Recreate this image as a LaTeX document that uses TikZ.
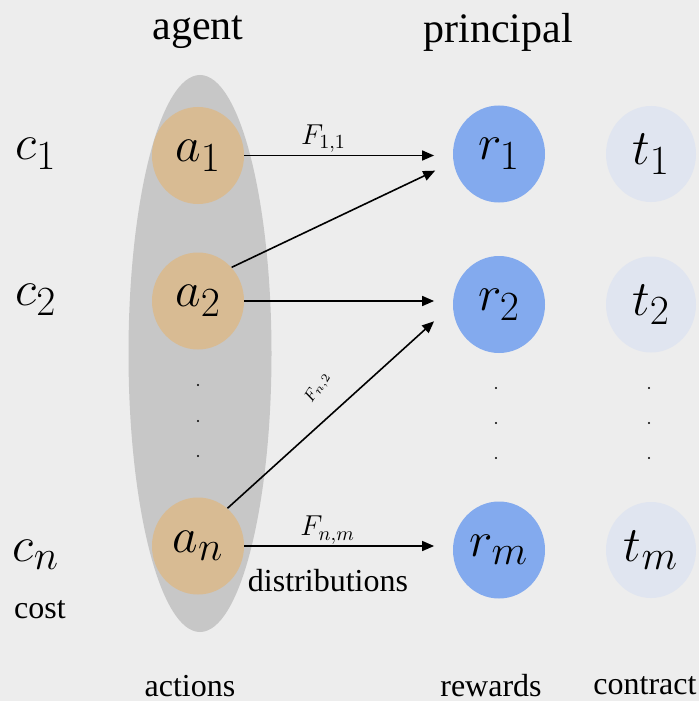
\documentclass[tikz,border=0pt]{standalone}
\usepackage{fontspec}
\setmainfont{Liberation Serif}
\usetikzlibrary{positioning, shapes.geometric, arrows.meta, calc}
\definecolor{fondgris}{RGB}{237,237,237}
\definecolor{ovalgris}{RGB}{199,199,199}
\definecolor{beige}{RGB}{216,187,147}
\definecolor{bleu}{RGB}{131,170,238}
\definecolor{bleupale}{RGB}{224,229,240}

\begin{document}
\begin{tikzpicture}[x=0.5pt, y=-0.5pt,
    >={Triangle[length=6pt, width=5pt]},
    rond/.style={ellipse, inner sep=0pt, minimum width=46pt, minimum height=48.5pt,
                 font=\Huge},
    action/.style={rond, fill=beige},
    reward/.style={rond, fill=bleu},
    payment/.style={rond, fill=bleupale, minimum width=45pt, minimum height=48pt},
    cout/.style={font=\Huge},
    titre/.style={font=\fontsize{21}{25}\selectfont},
    legende/.style={font=\fontsize{16}{19}\selectfont},
    flabel/.style={font=\Large, inner sep=1pt},
    fleche/.style={->, line width=0.8pt}]
    \useasboundingbox (0,0) rectangle (699,701);
    \fill[fondgris] (0,0) rectangle (699,701);
    % colonne des actions de l'agent
    \node[ellipse, fill=ovalgris, inner sep=0pt, minimum width=71.5pt, minimum height=278.5pt] (actionset) at (200,353.5) {};
    \node[action] (a1) at (198,155.5) {$a_1$};
    \node[action] (a2) at (198,301) {$a_2$};
    \node[action] (an) at (198,546) {$a_n$};
    % colonnes des gains et du contrat
    \node[reward] (r1) at (499,154) {$r_1$};
    \node[reward] (r2) at (499,304.5) {$r_2$};
    \node[reward] (rm) at (499,550) {$r_m$};
    \node[payment] (t1) at (651,154) {$t_1$};
    \node[payment] (t2) at (651,304.5) {$t_2$};
    \node[payment] (tm) at (651,550) {$t_m$};
    % coûts
    \node[cout] (c1) at (36,154) {$c_1$};
    \node[cout] (c2) at (36,300) {$c_2$};
    \node[cout] (cn) at (36,555) {$c_n$};
    \node[legende] (cost) at (40,610) {cost};
    % titres
    \node[titre] (agent) at (198,32) {agent};
    \node[titre] (principal) at (498,32) {principal};
    \node[legende] (actions) at (190,686) {actions};
    \node[legende] (rewards) at (491,686) {rewards};
    \node[legende] (contract) at (645,686) {contract};
    % points de suspension
    \foreach \y in {385,421,456}
        \fill (198,\y) circle[radius=0.6pt];
    \foreach \x in {496,649}
        \foreach \y in {388,423,458}
            \fill (\x,\y) circle[radius=0.6pt];
    % distributions
    \draw[fleche, shorten >=9.25pt] (a1.east) -- node[flabel, above, pos=0.38] (f11) {$F_{1,1}$} (a1.east -| r1.west);
    \draw[fleche, shorten >=10pt] (a2.45) -- (r1.190);
    \draw[fleche, shorten >=9.25pt] (a2.east) -- (a2.east -| r2.west);
    \draw[fleche, shorten >=12.5pt] (an.52) -- (r2.west);
    \draw[fleche, shorten >=9.25pt] (an.east) -- node[flabel, above, pos=0.4, inner sep=0.5pt] (fnm) {$F_{n,m}$} (an.east -| rm.west);
    \node[font=\footnotesize, rotate=58] (fn2) at (318,388) {$F_{n,2}$};
    \node[legende] (distributions) at (328,581) {distributions};
\end{tikzpicture}
\end{document}
